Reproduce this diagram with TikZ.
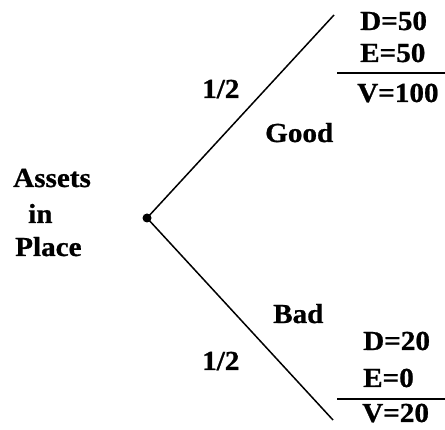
\documentclass[tikz,border=0pt]{standalone}
\usepackage{fontspec}
\setmainfont[FakeStretch=1.06, BoldFeatures={FakeBold=0.8}]{Liberation Serif}
\tikzset{
  lbl/.style={anchor=base west, inner sep=0pt, font=\fontsize{27.5}{30}\selectfont\bfseries},
  branch/.style={line width=1.5pt},
  rule/.style={line width=2pt}
}
\begin{document}
\begin{tikzpicture}[x=1pt, y=-1pt]
        \useasboundingbox (0,0) rectangle (445,430);

        % Root and branch ends
        \coordinate (root) at (147,218);
        \coordinate (goodend) at (334,15);
        \coordinate (badend) at (333,420);
        \draw[branch] (root)--(goodend);
        \draw[branch] (root)--(badend);
        \fill (root) circle (4.5pt);

        % Label at the root
        \node[lbl] (assets) at (13,187) {Assets};
        \node[lbl] (in) at (28,223) {in};
        \node[lbl] (place) at (15,256) {Place};

        % Branch labels
        \node[lbl] (pgood) at (202,98) {1/2};
        \node[lbl] (good) at (265,142) {Good};
        \node[lbl] (bad) at (273,323) {Bad};
        \node[lbl] (pbad) at (202,370) {1/2};

        % Payoffs in the good state
        \node[lbl] (dgood) at (360,30) {D=50};
        \node[lbl] (egood) at (360,62) {E=50};
        \coordinate (rgoodl) at (337,73);
        \coordinate (rgoodr) at (445,73);
        \draw[rule] (rgoodl)--(rgoodr);
        \node[lbl] (vgood) at (357,102) {V=100};

        % Payoffs in the bad state
        \node[lbl] (dbad) at (363,350) {D=20};
        \node[lbl] (ebad) at (363,387) {E=0};
        \coordinate (rbadl) at (337,399);
        \coordinate (rbadr) at (445,399);
        \draw[rule] (rbadl)--(rbadr);
        \node[lbl] (vbad) at (362,422) {V=20};
\end{tikzpicture}
\end{document}
